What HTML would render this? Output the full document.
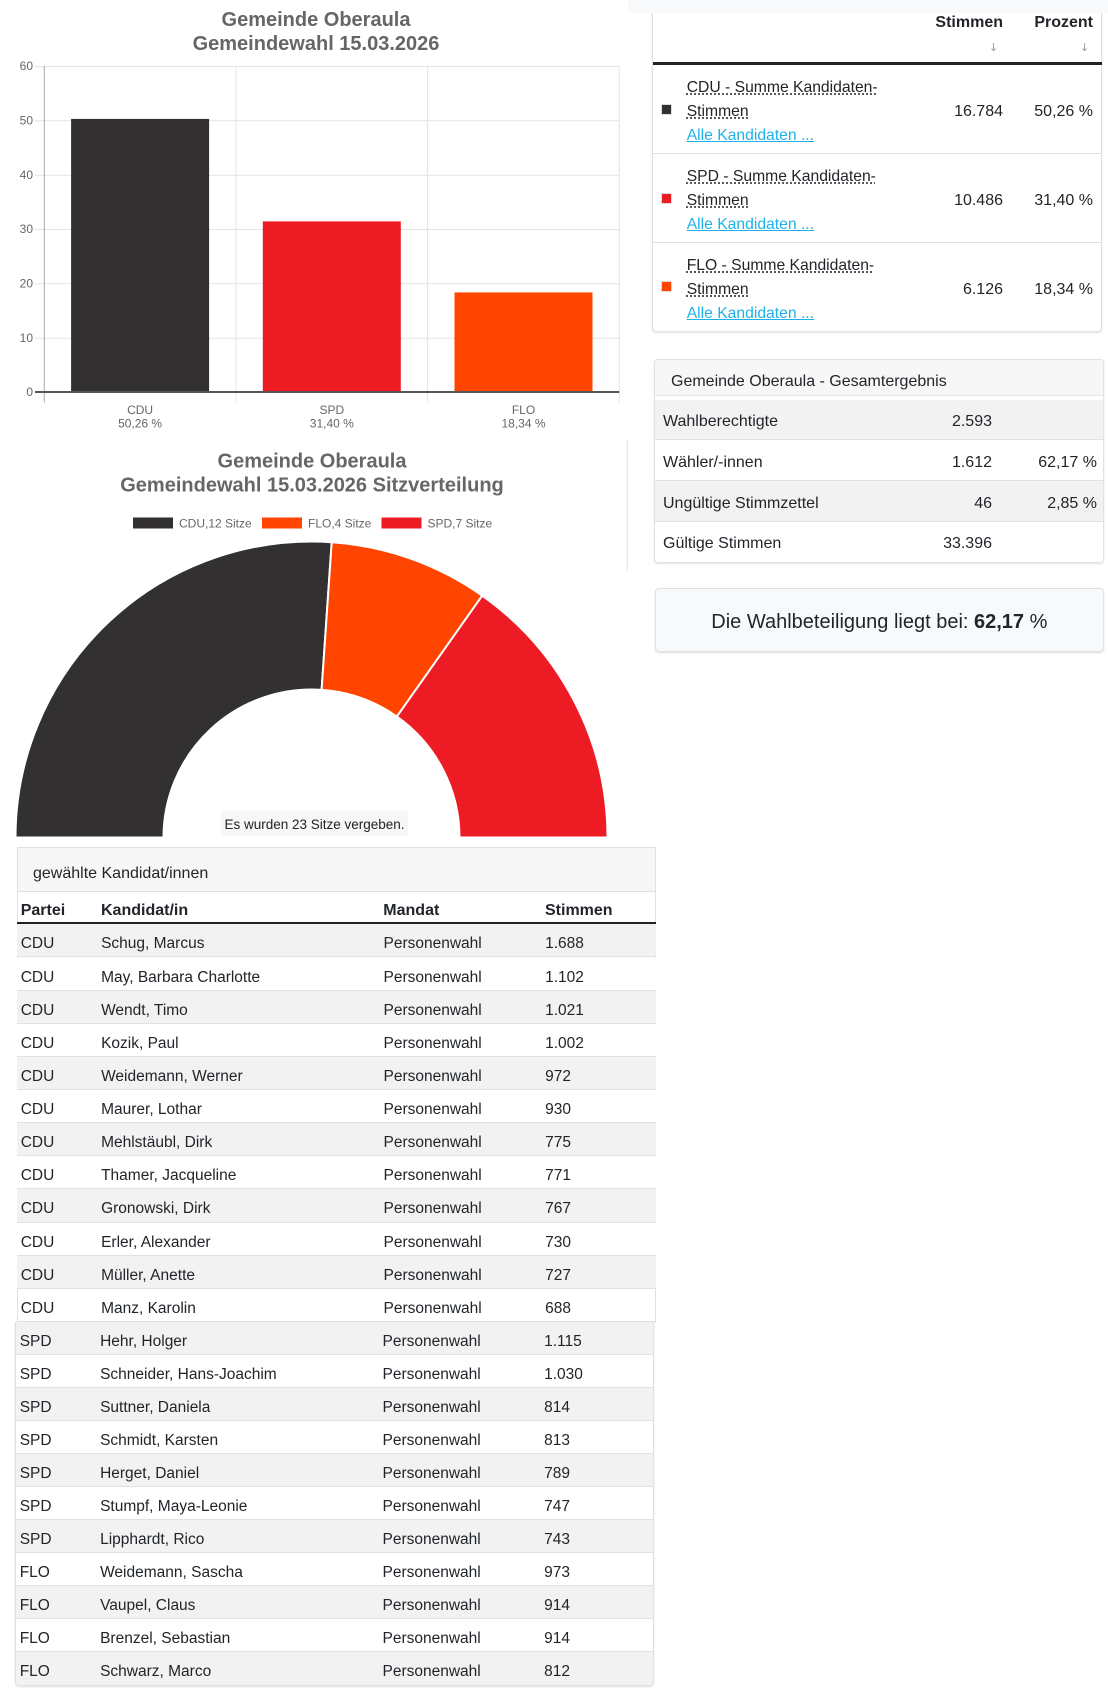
<!DOCTYPE html>
<html><head><meta charset="utf-8">
<style>
*{margin:0;padding:0;box-sizing:border-box}
body{width:1108px;height:1692px;overflow:hidden;background:#fff;position:relative;font-family:"Liberation Sans",Arial,sans-serif;color:#212529}
.a{position:absolute}
.t{position:absolute;white-space:nowrap}
.lk{color:#1eb2e8;text-decoration:underline}
.ab{text-decoration:underline dotted;text-underline-offset:2px}
.r{position:absolute;left:16.7px;width:639.3px;height:33.06px;line-height:33px;font-size:15.5px;border-bottom:1px solid #dee2e6;background:#fff}
.r2{left:14.7px;height:33.03px}
.g{background:#f2f2f2}
.r span{position:absolute;top:3px;white-space:nowrap}
.c1{left:4px}.c2{left:84.4px}.c3{left:366.8px}.c4{left:528.4px}
.gr{position:absolute;left:0;width:450px;height:40.7px;line-height:40px;font-size:16px;border-bottom:1px solid #dee2e6}
.gr span{top:2.5px}
</style></head><body>

<svg class="a" style="left:0;top:0" width="640" height="850" font-family="Liberation Sans, Arial, sans-serif">
  <text x="316" y="26" text-anchor="middle" font-size="20" font-weight="bold" fill="#666">Gemeinde Oberaula</text>
  <text x="316" y="50" text-anchor="middle" font-size="20" font-weight="bold" fill="#666">Gemeindewahl 15.03.2026</text>
  <g stroke="#e4e4e4" stroke-width="1">
    <line x1="35" y1="66.5" x2="619.3" y2="66.5"/>
    <line x1="35" y1="120.8" x2="619.3" y2="120.8"/>
    <line x1="35" y1="175.2" x2="619.3" y2="175.2"/>
    <line x1="35" y1="229.5" x2="619.3" y2="229.5"/>
    <line x1="35" y1="283.8" x2="619.3" y2="283.8"/>
    <line x1="35" y1="338.2" x2="619.3" y2="338.2"/>
    <line x1="236" y1="66" x2="236" y2="402.7"/>
    <line x1="427.6" y1="66" x2="427.6" y2="402.7"/>
    <line x1="619.3" y1="66" x2="619.3" y2="402.7"/>
  </g>
  <line x1="44.3" y1="66" x2="44.3" y2="402.7" stroke="#a8a8a8" stroke-width="1"/>
  <rect x="71.1" y="118.9" width="138" height="273.1" fill="#323031"/>
  <rect x="262.8" y="221.4" width="138" height="170.6" fill="#ed1c24"/>
  <rect x="454.5" y="292.4" width="138" height="99.6" fill="#ff4500"/>
  <line x1="35" y1="392" x2="619.3" y2="392" stroke="#555" stroke-width="2"/>
  <g font-size="12" fill="#666" text-anchor="end">
    <text x="33" y="70.2">60</text>
    <text x="33" y="124.5">50</text>
    <text x="33" y="178.9">40</text>
    <text x="33" y="233.2">30</text>
    <text x="33" y="287.5">20</text>
    <text x="33" y="341.9">10</text>
    <text x="33" y="396.2">0</text>
  </g>
  <g font-size="12" fill="#666" text-anchor="middle">
    <text x="140.1" y="414.2">CDU</text>
    <text x="140.1" y="427.5">50,26 %</text>
    <text x="331.8" y="414.2">SPD</text>
    <text x="331.8" y="427.5">31,40 %</text>
    <text x="523.5" y="414.2">FLO</text>
    <text x="523.5" y="427.5">18,34 %</text>
  </g>

  <text x="312" y="467.3" text-anchor="middle" font-size="20" font-weight="bold" fill="#666">Gemeinde Oberaula</text>
  <text x="312" y="491.7" text-anchor="middle" font-size="20" font-weight="bold" fill="#666">Gemeindewahl 15.03.2026 Sitzverteilung</text>
  <g font-size="12" fill="#666">
    <rect x="133" y="517.5" width="40" height="11" fill="#323031"/>
    <text x="179" y="527.3">CDU,12 Sitze</text>
    <rect x="262" y="517.5" width="40" height="11" fill="#ff4500"/>
    <text x="308" y="527.3">FLO,4 Sitze</text>
    <rect x="381.5" y="517.5" width="40" height="11" fill="#ed1c24"/>
    <text x="427.5" y="527.3">SPD,7 Sitze</text>
  </g>
  <g stroke="#fff" stroke-width="2">
    <path d="M15.5 837.5 A296 296 0 0 1 331.7 542.19 L321.6 689.84 A148 148 0 0 0 163.5 837.5 Z" fill="#323031"/>
    <path d="M331.7 542.19 A296 296 0 0 1 482.2 595.67 L396.85 716.58 A148 148 0 0 0 321.6 689.84 Z" fill="#ff4500"/>
    <path d="M482.2 595.67 A296 296 0 0 1 607.5 837.5 L459.5 837.5 A148 148 0 0 0 396.85 716.58 Z" fill="#ed1c24"/>
  </g>
  <rect x="221" y="811" width="187" height="25" fill="#f7f7f7"/>
  <text x="314.5" y="829" text-anchor="middle" font-size="13.5" fill="#222">Es wurden 23 Sitze vergeben.</text>
  <line x1="627.3" y1="440" x2="627.3" y2="570.7" stroke="#e2e2e2" stroke-width="1"/>
</svg>

<!-- right panel -->
<div class="a" style="left:628px;top:0;width:480px;height:13px;background:#f8f9fa"></div>
<div class="a" style="left:652px;top:12.7px;width:450px;height:319.5px;border:1px solid #dee2e6;border-top:none;border-radius:0 0 4px 4px;box-shadow:0 1px 2px rgba(0,0,0,.12)"></div>
<div class="t" style="right:105px;top:10.7px;line-height:24px;font-size:16px;font-weight:bold">Stimmen</div>
<div class="t" style="right:15px;top:10.7px;line-height:24px;font-size:16px;font-weight:bold">Prozent</div>
<div class="t" style="left:989px;top:39px;line-height:18px;font-size:11px;color:#999;font-family:'DejaVu Sans',sans-serif">↓</div>
<div class="t" style="left:1080px;top:39px;line-height:18px;font-size:11px;color:#999;font-family:'DejaVu Sans',sans-serif">↓</div>
<div class="a" style="left:653px;top:62.3px;width:449px;height:2.5px;background:#222"></div>
<div class="a" style="left:653px;top:153.3px;width:449px;height:1px;background:#dee2e6"></div>
<div class="a" style="left:653px;top:242px;width:449px;height:1px;background:#dee2e6"></div>

<div class="a" style="left:661.7px;top:105px;width:9px;height:9px;background:#323031;outline:1px solid #ddd"></div>
<div class="t" style="left:686.7px;top:75.5px;line-height:24px;font-size:15.7px"><span class="ab">CDU - Summe Kandidaten-</span><br><span class="ab">Stimmen</span><br><span class="lk">Alle Kandidaten ...</span></div>
<div class="t" style="right:105px;top:99.7px;line-height:24px;font-size:16px">16.784</div>
<div class="t" style="right:15px;top:99.7px;line-height:24px;font-size:16px">50,26 %</div>

<div class="a" style="left:661.7px;top:193.5px;width:9px;height:9px;background:#ed1c24;outline:1px solid #ddd"></div>
<div class="t" style="left:686.7px;top:164.5px;line-height:24px;font-size:15.7px"><span class="ab">SPD - Summe Kandidaten-</span><br><span class="ab">Stimmen</span><br><span class="lk">Alle Kandidaten ...</span></div>
<div class="t" style="right:105px;top:188.5px;line-height:24px;font-size:16px">10.486</div>
<div class="t" style="right:15px;top:188.5px;line-height:24px;font-size:16px">31,40 %</div>

<div class="a" style="left:661.7px;top:282.3px;width:9px;height:9px;background:#ff4500;outline:1px solid #ddd"></div>
<div class="t" style="left:686.7px;top:253.5px;line-height:24px;font-size:15.7px"><span class="ab">FLO - Summe Kandidaten-</span><br><span class="ab">Stimmen</span><br><span class="lk">Alle Kandidaten ...</span></div>
<div class="t" style="right:105px;top:277.5px;line-height:24px;font-size:16px">6.126</div>
<div class="t" style="right:15px;top:277.5px;line-height:24px;font-size:16px">18,34 %</div>

<!-- Gesamtergebnis -->
<div class="a" style="left:654px;top:358.7px;width:450px;height:204.6px;border:1px solid #dee2e6;border-radius:4px;box-shadow:0 1px 2px rgba(0,0,0,.12);overflow:hidden">
  <div class="a" style="left:0;top:0;width:450px;height:36px;background:#f7f7f7;border-bottom:1px solid #e6e6e6"></div>
  <div class="t" style="left:16px;top:12px;line-height:20px;font-size:16px">Gemeinde Oberaula - Gesamtergebnis</div>
  <div class="gr g" style="top:40px"><span class="t" style="left:8px">Wahlberechtigte</span><span class="t" style="right:113px">2.593</span></div>
  <div class="gr" style="top:80.7px"><span class="t" style="left:8px">Wähler/-innen</span><span class="t" style="right:113px">1.612</span><span class="t" style="right:8px">62,17 %</span></div>
  <div class="gr g" style="top:121.4px"><span class="t" style="left:8px">Ungültige Stimmzettel</span><span class="t" style="right:113px">46</span><span class="t" style="right:8px">2,85 %</span></div>
  <div class="gr" style="top:162.1px;border-bottom:none"><span class="t" style="left:8px">Gültige Stimmen</span><span class="t" style="right:113px">33.396</span></div>
</div>

<div class="a" style="left:654.7px;top:588.3px;width:449.3px;height:63.4px;background:#f8f9fa;border:1px solid #dee2e6;border-radius:4px;box-shadow:0 1px 2px rgba(0,0,0,.12);text-align:center;padding-top:3px;line-height:60px;font-size:20px">Die Wahlbeteiligung liegt bei: <b>62,17</b> %</div>

<!-- Kandidaten table -->
<div class="a" style="left:16.7px;top:847px;width:639.3px;height:476px;border:1px solid #e0e0e0;border-bottom:none"></div>
<div class="a" style="left:17.7px;top:848px;width:637.3px;height:44px;background:#f7f7f7;border-bottom:1px solid #dfdfdf"></div>
<div class="t" style="left:33px;top:863px;line-height:22px;font-size:16px">gewählte Kandidat/innen</div>
<div class="t" style="left:20.7px;top:900px;line-height:22px;font-size:16px;font-weight:bold">Partei</div>
<div class="t" style="left:101px;top:900px;line-height:22px;font-size:16px;font-weight:bold">Kandidat/in</div>
<div class="t" style="left:383.3px;top:900px;line-height:22px;font-size:16px;font-weight:bold">Mandat</div>
<div class="t" style="left:545px;top:900px;line-height:22px;font-size:16px;font-weight:bold">Stimmen</div>
<div class="a" style="left:16.7px;top:921.5px;width:639.3px;height:2.5px;background:#222"></div>

<div class="r g" style="top:924px"><span class="c1">CDU</span><span class="c2">Schug, Marcus</span><span class="c3">Personenwahl</span><span class="c4">1.688</span></div>
<div class="r" style="top:958.06px"><span class="c1">CDU</span><span class="c2">May, Barbara Charlotte</span><span class="c3">Personenwahl</span><span class="c4">1.102</span></div>
<div class="r g" style="top:991.12px"><span class="c1">CDU</span><span class="c2">Wendt, Timo</span><span class="c3">Personenwahl</span><span class="c4">1.021</span></div>
<div class="r" style="top:1024.18px"><span class="c1">CDU</span><span class="c2">Kozik, Paul</span><span class="c3">Personenwahl</span><span class="c4">1.002</span></div>
<div class="r g" style="top:1057.24px"><span class="c1">CDU</span><span class="c2">Weidemann, Werner</span><span class="c3">Personenwahl</span><span class="c4">972</span></div>
<div class="r" style="top:1090.3px"><span class="c1">CDU</span><span class="c2">Maurer, Lothar</span><span class="c3">Personenwahl</span><span class="c4">930</span></div>
<div class="r g" style="top:1123.36px"><span class="c1">CDU</span><span class="c2">Mehlstäubl, Dirk</span><span class="c3">Personenwahl</span><span class="c4">775</span></div>
<div class="r" style="top:1156.42px"><span class="c1">CDU</span><span class="c2">Thamer, Jacqueline</span><span class="c3">Personenwahl</span><span class="c4">771</span></div>
<div class="r g" style="top:1189.48px"><span class="c1">CDU</span><span class="c2">Gronowski, Dirk</span><span class="c3">Personenwahl</span><span class="c4">767</span></div>
<div class="r" style="top:1222.54px"><span class="c1">CDU</span><span class="c2">Erler, Alexander</span><span class="c3">Personenwahl</span><span class="c4">730</span></div>
<div class="r g" style="top:1255.6px"><span class="c1">CDU</span><span class="c2">Müller, Anette</span><span class="c3">Personenwahl</span><span class="c4">727</span></div>
<div class="r" style="top:1288.66px;background:transparent"><span class="c1">CDU</span><span class="c2">Manz, Karolin</span><span class="c3">Personenwahl</span><span class="c4">688</span></div>

<div class="a" style="left:14.7px;top:1321.7px;width:639.3px;height:364px;border:1px solid #e0e0e0;border-top:none;border-radius:0 0 4px 4px;box-shadow:0 1px 2px rgba(0,0,0,.12)"></div>
<div class="r r2 g" style="top:1321.7px;left:15.7px;width:637.3px"><span class="c1">SPD</span><span class="c2">Hehr, Holger</span><span class="c3">Personenwahl</span><span class="c4">1.115</span></div>
<div class="r r2" style="top:1354.73px;left:15.7px;width:637.3px"><span class="c1">SPD</span><span class="c2">Schneider, Hans-Joachim</span><span class="c3">Personenwahl</span><span class="c4">1.030</span></div>
<div class="r r2 g" style="top:1387.76px;left:15.7px;width:637.3px"><span class="c1">SPD</span><span class="c2">Suttner, Daniela</span><span class="c3">Personenwahl</span><span class="c4">814</span></div>
<div class="r r2" style="top:1420.79px;left:15.7px;width:637.3px"><span class="c1">SPD</span><span class="c2">Schmidt, Karsten</span><span class="c3">Personenwahl</span><span class="c4">813</span></div>
<div class="r r2 g" style="top:1453.82px;left:15.7px;width:637.3px"><span class="c1">SPD</span><span class="c2">Herget, Daniel</span><span class="c3">Personenwahl</span><span class="c4">789</span></div>
<div class="r r2" style="top:1486.85px;left:15.7px;width:637.3px"><span class="c1">SPD</span><span class="c2">Stumpf, Maya-Leonie</span><span class="c3">Personenwahl</span><span class="c4">747</span></div>
<div class="r r2 g" style="top:1519.88px;left:15.7px;width:637.3px"><span class="c1">SPD</span><span class="c2">Lipphardt, Rico</span><span class="c3">Personenwahl</span><span class="c4">743</span></div>
<div class="r r2" style="top:1552.91px;left:15.7px;width:637.3px"><span class="c1">FLO</span><span class="c2">Weidemann, Sascha</span><span class="c3">Personenwahl</span><span class="c4">973</span></div>
<div class="r r2 g" style="top:1585.94px;left:15.7px;width:637.3px"><span class="c1">FLO</span><span class="c2">Vaupel, Claus</span><span class="c3">Personenwahl</span><span class="c4">914</span></div>
<div class="r r2" style="top:1618.97px;left:15.7px;width:637.3px"><span class="c1">FLO</span><span class="c2">Brenzel, Sebastian</span><span class="c3">Personenwahl</span><span class="c4">914</span></div>
<div class="r r2 g" style="top:1652px;left:15.7px;width:637.3px;border-bottom:none;border-radius:0 0 3px 3px"><span class="c1">FLO</span><span class="c2">Schwarz, Marco</span><span class="c3">Personenwahl</span><span class="c4">812</span></div>

</body></html>
